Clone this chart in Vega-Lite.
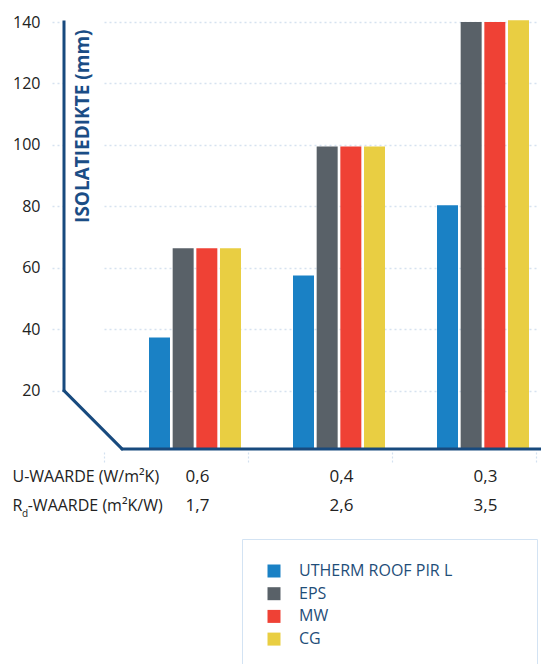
{
  "$schema": "https://vega.github.io/schema/vega-lite/v6.json",
  "width": 477,
  "height": 430,
  "autosize": {"type": "none"},
  "padding": {"left": 64, "top": 22, "right": 0, "bottom": 212},
  "background": "white",
  "config": {"view": {"stroke": null}, "font": "Open Sans"},
  "title": {"text": "d", "orient": "bottom", "anchor": "start", "frame": "group", "fontSize": 10, "fontWeight": "normal", "color": "#222222", "font": "Open Sans", "dx": -42, "dy": -164, "offset": 0},
  "layer": [
    {
      "data": {"values": [
        {"u": "0,6", "material": "UTHERM ROOF PIR L", "value": 37.3},
        {"u": "0,6", "material": "EPS", "value": 66.3},
        {"u": "0,6", "material": "MW", "value": 66.3},
        {"u": "0,6", "material": "CG", "value": 66.3},
        {"u": "0,4", "material": "UTHERM ROOF PIR L", "value": 57.5},
        {"u": "0,4", "material": "EPS", "value": 99.5},
        {"u": "0,4", "material": "MW", "value": 99.5},
        {"u": "0,4", "material": "CG", "value": 99.5},
        {"u": "0,3", "material": "UTHERM ROOF PIR L", "value": 80.3},
        {"u": "0,3", "material": "EPS", "value": 140},
        {"u": "0,3", "material": "MW", "value": 140},
        {"u": "0,3", "material": "CG", "value": 140.6}
      ]},
      "mark": {"type": "bar", "clip": false},
      "encoding": {
        "x": {
          "field": "u", "type": "nominal", "sort": ["0,6", "0,4", "0,3"],
          "scale": {"type": "band", "range": [40, 472], "paddingInner": 0, "paddingOuter": 0},
          "axis": {
            "orient": "bottom", "domain": false, "ticks": true, "tickBand": "extent", "tickSize": 10,
            "tickColor": "#d3e1f0", "tickDash": [2, 2], "tickWidth": 1.2,
            "labelPadding": 6, "labelOffset": 21, "labelFontSize": 17, "labelColor": "#222222", "labelFont": "Open Sans",
            "labelAngle": 0, "labelBaseline": "top", "labelLineHeight": 29,
            "labelExpr": "datum.label == '0,6' ? ['0,6', '1,7'] : datum.label == '0,4' ? ['0,4', '2,6'] : datum.label == '0,3' ? ['0,3', '3,5'] : ''",
            "title": ["U-WAARDE (W/m²K)", "R\u2004-WAARDE (m²K/W)"],
            "titleX": -52, "titleY": 16, "titleAlign": "left", "titleAnchor": null, "titleBaseline": "top",
            "titleFontSize": 16, "titleFontWeight": "normal", "titleColor": "#222222", "titleFont": "Open Sans", "titleLineHeight": 29
          }
        },
        "xOffset": {
          "field": "material", "type": "nominal",
          "sort": ["UTHERM ROOF PIR L", "EPS", "MW", "CG"],
          "scale": {"range": [45, 137], "paddingInner": 0.113, "paddingOuter": 0}
        },
        "y": {
          "field": "value", "type": "quantitative",
          "scale": {"domain": [0, 140], "nice": false},
          "axis": {
            "values": [20, 40, 60, 80, 100, 120, 140], "domain": false,
            "grid": true, "gridColor": "#d6e2f0", "gridDash": [2, 3], "gridWidth": 1.3,
            "ticks": true, "tickSize": 14, "tickColor": "#d6e2f0", "tickDash": [2, 3], "tickWidth": 1.3,
            "labelPadding": 10, "labelFontSize": 16, "labelColor": "#222222", "labelFont": "Open Sans",
            "title": "ISOLATIEDIKTE (mm)", "titleAngle": -90, "titleX": 9, "titleY": 7,
            "titleAlign": "right", "titleBaseline": "top", "titleFontSize": 19, "titleFontWeight": "bold",
            "titleColor": "#1b4d85", "titleFont": "Open Sans"
          }
        },
        "y2": {"datum": 1},
        "color": {
          "field": "material", "type": "nominal",
          "sort": ["UTHERM ROOF PIR L", "EPS", "MW", "CG"],
          "scale": {"domain": ["UTHERM ROOF PIR L", "EPS", "MW", "CG"], "range": ["#1a81c5", "#596168", "#ef4135", "#e9ce42"]},
          "legend": {
            "orient": "none", "legendX": 178, "legendY": 517, "title": null, "direction": "vertical",
            "padding": 24, "strokeColor": "#d3e3f3", "fillColor": "white",
            "symbolType": "square", "symbolSize": 169, "symbolStrokeWidth": 0, "symbolOpacity": 1,
            "labelFontSize": 16, "labelColor": "#1f4e79", "labelFont": "Open Sans", "labelOffset": 17,
            "labelLimit": 400, "rowPadding": 6.7,
            "labelExpr": "datum.label == 'UTHERM ROOF PIR L' ? datum.label + '\u2800\u2800\u2800\u2800\u2800' : datum.label"
          }
        }
      }
    },
    {
      "data": {"values": [{"part": "vertical"}]},
      "mark": {"type": "rule", "stroke": "#184a7e", "strokeWidth": 3, "strokeCap": "square"},
      "encoding": {"x": {"value": 0}, "y": {"datum": 140}, "y2": {"datum": 20}}
    },
    {
      "data": {"values": [{"part": "diagonal"}]},
      "mark": {"type": "rule", "stroke": "#184a7e", "strokeWidth": 3, "strokeCap": "round"},
      "encoding": {"x": {"value": 0}, "y": {"datum": 20}, "x2": {"value": 58}, "y2": {"datum": 1}}
    },
    {
      "data": {"values": [{"part": "baseline"}]},
      "mark": {"type": "rule", "stroke": "#184a7e", "strokeWidth": 3, "strokeCap": "round"},
      "encoding": {"x": {"value": 58}, "x2": {"value": 477}, "y": {"datum": 1}}
    }
  ]
}
